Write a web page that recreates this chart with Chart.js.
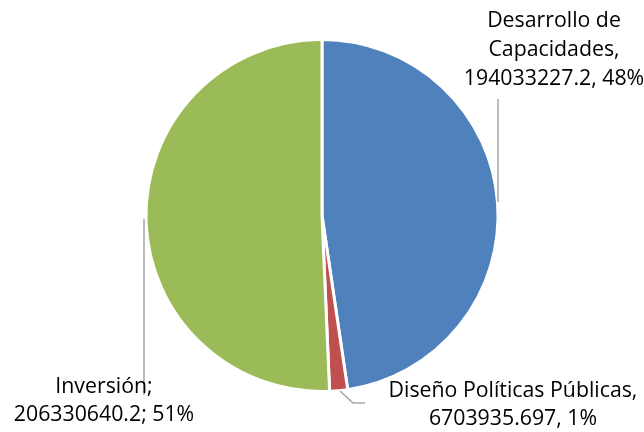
<!DOCTYPE html>
<html>
<head>
<meta charset="utf-8">
<script src="https://cdn.jsdelivr.net/npm/chart.js@4.4.1/dist/chart.umd.min.js"></script>
<style>
html,body{margin:0;padding:0;background:#fff;}
#wrap{width:644px;height:432px;position:relative;}
</style>
</head>
<body>
<div id="wrap"><canvas id="c"></canvas></div>
<script>
const categories = ["Desarrollo de Capacidades", "Diseño Políticas Públicas", "Inversión"];
const values = [194033227.2, 6703935.697, 206330640.2];
const percentLabels = ["48%", "1%", "51%"];
const colors = ["#4F81BD", "#C0504D", "#9BBB59"];

// label text lines (as shown in the reference)
const labelLines = [
  ["Desarrollo de", "Capacidades,", values[0] + ", " + percentLabels[0]],
  ["Diseño Políticas Públicas,", values[1] + ", " + percentLabels[1]],
  ["Inversión;", values[2] + "; " + percentLabels[2]]
];

const FONT = '21.3px "Open Sans"';
const labelLayout = [
  {cx: 554, baselines: [27, 56, 85], leader: [[498, 202], [498, 99]]},
  {cx: 513, baselines: [397, 425], leader: [[340, 391], [353, 403], [365, 403]]},
  {cx: 104, baselines: [393, 421], leader: [[144, 219], [144, 395]]}
];

const labelPlugin = {
  id: 'pieLabels',
  afterDatasetsDraw(chart) {
    const ctx = chart.ctx;
    ctx.save();
    ctx.strokeStyle = '#A6A6A6';
    ctx.lineWidth = 1.5;
    labelLayout.forEach(l => {
      ctx.beginPath();
      l.leader.forEach((p, i) => i === 0 ? ctx.moveTo(p[0], p[1]) : ctx.lineTo(p[0], p[1]));
      ctx.stroke();
    });
    ctx.fillStyle = '#000';
    ctx.font = FONT;
    ctx.textAlign = 'center';
    ctx.textBaseline = 'alphabetic';
    labelLayout.forEach((l, i) => {
      labelLines[i].forEach((t, j) => ctx.fillText(t, l.cx, l.baselines[j]));
    });
    ctx.restore();
  }
};

new Chart(document.getElementById('c'), {
  type: 'pie',
  data: {
    labels: categories,
    datasets: [{
      data: values,
      backgroundColor: colors,
      borderColor: '#FFFFFF',
      borderWidth: 3
    }]
  },
  options: {
    responsive: true,
    maintainAspectRatio: false,
    animation: false,
    radius: 176,
    layout: {padding: {top: 41, bottom: 42, left: 0, right: 0}},
    plugins: {legend: {display: false}, tooltip: {enabled: false}}
  },
  plugins: [labelPlugin]
});
</script>
</body>
</html>
